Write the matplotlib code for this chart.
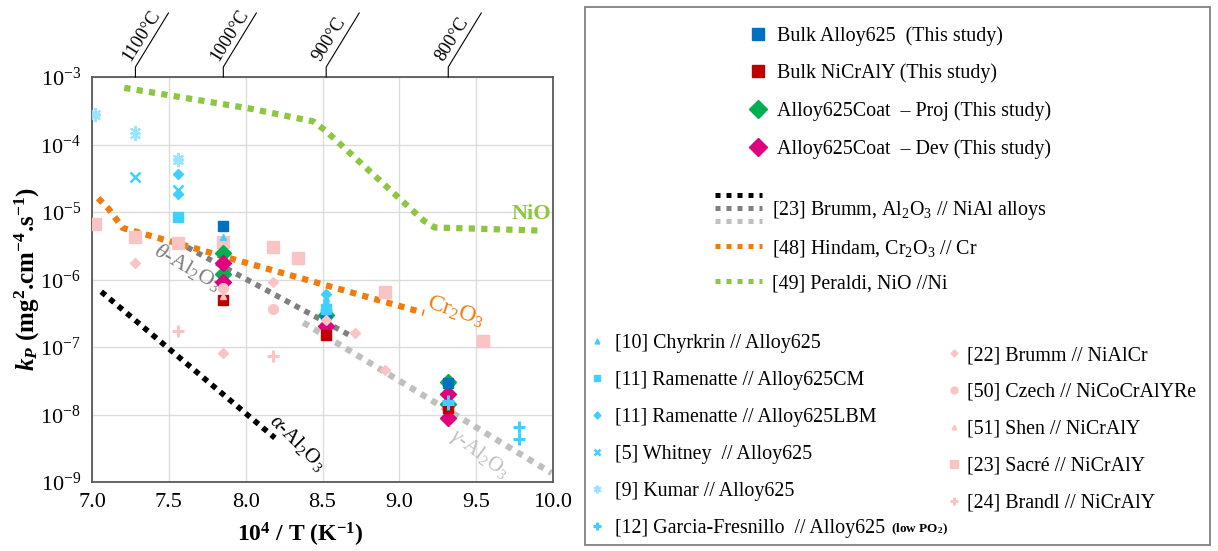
import matplotlib
matplotlib.use('Agg')
import matplotlib.pyplot as plt
import numpy as np
from matplotlib.lines import Line2D
from matplotlib.patches import Rectangle
from matplotlib.transforms import IdentityTransform
from matplotlib.legend_handler import HandlerBase

plt.rcParams['font.family'] = 'Liberation Serif'
plt.rcParams['mathtext.fontset'] = 'custom'
plt.rcParams['mathtext.rm'] = 'Liberation Serif'
plt.rcParams['mathtext.it'] = 'Liberation Serif:italic'
plt.rcParams['mathtext.bf'] = 'Liberation Serif:bold'
plt.rcParams['mathtext.bfit'] = 'Liberation Serif:italic:bold'

# ---- data (x = 1e4/T in K^-1, y = kp in mg^2.cm^-4.s^-1) ----
temps_c = [1100, 1000, 900, 800]

bulk625_x = [7.854, 8.52, 9.318]
bulk625_y = [6.1e-6, 3.1e-7, 2.95e-8]
bulknicraly_x = [7.854, 8.52, 9.318]
bulknicraly_y = [4.9e-7, 1.5e-7, 1.26e-8]
proj_x = [7.854, 7.854, 8.52, 9.318, 9.318]
proj_y = [2.5e-6, 1.2e-6, 3.0e-7, 3.0e-8, 1.45e-8]
dev_x = [7.854, 7.854, 8.52, 9.318, 9.318]
dev_y = [1.74e-6, 9.1e-7, 2.07e-7, 2.0e-8, 8.9e-9]

brumm_alpha_x = [7.06, 8.19]
brumm_alpha_y = [6.6e-7, 4.5e-9]
brumm_theta_x = [7.62, 8.70]
brumm_theta_y = [3.0e-6, 1.4e-7]
brumm_gamma_x = [8.375, 9.99]
brumm_gamma_y = [2.3e-7, 1.36e-9]
hindam_x = [7.04, 7.11, 7.20, 9.16]
hindam_y = [1.6e-5, 1.1e-5, 5.8e-6, 3.2e-7]
peraldi_x = [7.21, 8.03, 8.44, 8.52, 9.16, 9.23, 9.93]
peraldi_y = [6.9e-4, 3.4e-4, 2.2e-4, 1.6e-4, 7.4e-6, 5.9e-6, 5.3e-6]

chyrkrin_x = [7.854, 8.52, 8.52, 8.52, 8.52, 8.52]
chyrkrin_y = [4.3e-6, 3.4e-7, 3.8e-7, 4.3e-7, 4.8e-7, 5.3e-7]
ramcm_x = [7.557, 8.52]
ramcm_y = [8.4e-6, 3.6e-7]
ramlbm_x = [7.557, 7.557, 8.52]
ramlbm_y = [3.6e-5, 1.86e-5, 6.0e-7]
whitney_x = [7.28, 7.557]
whitney_y = [3.3e-5, 2.14e-5]
kumar_x = [7.02, 7.02, 7.28, 7.28, 7.557, 7.557]
kumar_y = [2.6e-4, 2.9e-4, 1.4e-4, 1.6e-4, 5.6e-5, 6.3e-5]
garcia_x = [9.318, 9.318, 9.78, 9.78]
garcia_y = [1.6e-8, 1.42e-8, 6.5e-9, 4.3e-9]

brummnialcr_x = [7.28, 7.854, 8.176, 8.52, 8.71, 8.906]
brummnialcr_y = [1.74e-6, 8.1e-8, 9.1e-7, 2.5e-7, 1.6e-7, 4.5e-8]
czech_x = [7.854, 8.176]
czech_y = [7.6e-7, 3.6e-7]
shen_x = [7.854]
shen_y = [5.6e-7]
sacre_x = [7.02, 7.28, 7.557, 7.854, 8.176, 8.34, 8.906, 9.542]
sacre_y = [6.6e-6, 4.2e-6, 3.5e-6, 3.6e-6, 3.0e-6, 2.1e-6, 6.6e-7, 1.22e-7]
brandl_x = [7.557, 8.176]
brandl_y = [1.7e-7, 7.3e-8]

blue = '#0070C0'
red = '#C00000'
green = '#00B050'
magenta = '#E0007E'
cyan = '#3FD0FF'
cyan_l = '#99E4FF'
pink = '#FBC4C4'
orange = '#F07C0A'
lime = '#8DC63F'

fig = plt.figure(figsize=(12.18, 5.51), dpi=100)
ax = fig.add_axes([92 / 1218, 1 - 482 / 551, 461 / 1218, 405 / 551])
ax.set_yscale('log')
ax.set_xlim(7.0, 10.0)
ax.set_ylim(1e-9, 1e-3)
ax.set_xticks(np.arange(7.0, 10.01, 0.5))
ax.set_xticklabels(['%.1f' % v for v in np.arange(7.0, 10.01, 0.5)])
ax.yaxis.set_minor_locator(matplotlib.ticker.NullLocator())
ax.tick_params(length=0, labelsize=16, pad=8)
ax.grid(True, color='#dcdcdc', lw=1)
ax.set_axisbelow(True)
for s in ax.spines.values():
    s.set_color('#595959')
    s.set_linewidth(1.3)

dot = (0, (1, 1))
l_alpha, = ax.plot(brumm_alpha_x, brumm_alpha_y, color='black', lw=4, ls=dot)
l_theta, = ax.plot(brumm_theta_x, brumm_theta_y, color='#7f7f7f', lw=4, ls=dot)
l_gamma, = ax.plot(brumm_gamma_x, brumm_gamma_y, color='#bfbfbf', lw=4.5, ls=dot)
l_hindam, = ax.plot(hindam_x, hindam_y, color=orange, lw=4.5, ls=dot)
l_peraldi, = ax.plot(peraldi_x, peraldi_y, color=lime, lw=4.5, ls=dot)

m_proj, = ax.plot(proj_x, proj_y, 'D', color=green, ms=8, zorder=4)
m_dev, = ax.plot(dev_x, dev_y, 'D', color=magenta, ms=8, zorder=4)
m_blue, = ax.plot(bulk625_x, bulk625_y, 's', color=blue, ms=7.5, zorder=4)
m_red, = ax.plot(bulknicraly_x, bulknicraly_y, 's', color=red, ms=7.5, zorder=4)

m_chy, = ax.plot(chyrkrin_x, chyrkrin_y, '^', color=cyan, ms=5, zorder=5)
m_rcm, = ax.plot(ramcm_x, ramcm_y, 's', color=cyan, ms=7, zorder=5)
m_rlbm, = ax.plot(ramlbm_x, ramlbm_y, 'D', color=cyan, ms=5, zorder=5)
m_whit, = ax.plot(whitney_x, whitney_y, 'x', color=cyan, ms=7, mew=1.8, zorder=5)
m_kum, = ax.plot(kumar_x, kumar_y, marker=(6, 2, 0), ls='none', color=cyan_l, ms=8, mew=1.5, zorder=5)
m_gar, = ax.plot(garcia_x, garcia_y, '+', color=cyan, ms=8, mew=2.2, zorder=5)

m_bnac, = ax.plot(brummnialcr_x, brummnialcr_y, 'D', color=pink, ms=5, zorder=5)
m_cze, = ax.plot(czech_x, czech_y, 'o', color=pink, ms=7, zorder=5)
m_shen, = ax.plot(shen_x, shen_y, '^', color=pink, ms=5, zorder=5)
m_sac, = ax.plot(sacre_x, sacre_y, 's', color=pink, ms=8, zorder=3)
m_bra, = ax.plot(brandl_x, brandl_y, '+', color=pink, ms=8, mew=2.2, zorder=5)

ax.text(9.86, 9.5e-6, 'NiO', color=lime, fontsize=16, fontweight='bold', ha='center', va='center')
ax.text(9.37, 3.4e-7, 'Cr$_2$O$_3$', color=orange, fontsize=17, rotation=-18, ha='center', va='center')
ax.text(7.62, 1.55e-6, r'$\theta$-Al$_2$O$_3$', color='#7f7f7f', fontsize=16, rotation=-30,
        ha='center', va='center')
ax.text(8.34, 3.8e-9, r'$\alpha$-Al$_2$O$_3$', color='black', fontsize=15, rotation=-45,
        ha='center', va='center')
ax.text(9.52, 2.6e-9, r'$\gamma$-Al$_2$O$_3$', color='#bfbfbf', fontsize=15, rotation=-37,
        ha='center', va='center')

ax.set_xlabel(r'10$^{\mathbf{4}}$ / T (K$^{\mathbf{-1}}$)', fontsize=17, fontweight='bold')
ax.xaxis.set_label_coords((300 - 92) / 461, (482 - 535) / 405)
ax.xaxis.label.set_va('center')
ax.set_ylabel(r'$\mathbfit{k_P}$ (mg$^{\mathbf{2}}$.cm$^{\mathbf{-4}}$.s$^{\mathbf{-1}}$)',
              fontsize=18, fontweight='bold')
ax.yaxis.set_label_coords((27 - 92) / 461, 0.5)
ax.yaxis.label.set_va('center')

# temperature markers on top
W, H = 1218, 551
for tc in temps_c:
    xv = 1e4 / (tc + 273.15)
    px, py = ax.transData.transform((xv, 1e-3))
    fig.add_artist(Line2D([px, px, px + 33], [py, py + 10, py + 64], color='black', lw=0.8,
                          transform=IdentityTransform()))
    fig.text((px - 2) / W, (py + 13) / H, '%d°C' % tc, rotation=58, rotation_mode='anchor', ha='left',
             va='bottom', fontsize=13.5)


class StackHandler(HandlerBase):
    def create_artists(self, legend, orig_handle, xdescent, ydescent, width, height, fontsize, trans):
        arts = []
        for i, h in enumerate(orig_handle):
            y = height / 2 + (1 - i) * 9.5
            ln = Line2D([-xdescent, width - xdescent], [y, y], color=h.get_color(), lw=3.6,
                        ls=(0, (1, 1.2)))
            ln.set_transform(trans)
            arts.append(ln)
        return arts


def fpos(x, y):
    return (x / W, 1 - y / H)


fs = 14.4
leg1 = fig.legend([m_blue, m_red, m_proj, m_dev],
                  ['Bulk Alloy625  (This study)', 'Bulk NiCrAlY (This study)',
                   'Alloy625Coat  – Proj (This study)', 'Alloy625Coat  – Dev (This study)'],
                  loc='upper left', bbox_to_anchor=fpos(748, 26), frameon=False, fontsize=fs,
                  handlelength=1.0, handletextpad=0.45, labelspacing=0.9, borderpad=0, borderaxespad=0,
                  numpoints=1, markerscale=1.2)
leg2 = fig.legend([(l_alpha, l_theta, l_gamma), l_hindam, l_peraldi],
                  ['[23] Brumm, Al$_2$O$_3$ // NiAl alloys', '[48] Hindam, Cr$_2$O$_3$ // Cr',
                   '[49] Peraldi, NiO //Ni'],
                  loc='upper left', bbox_to_anchor=fpos(715, 199), frameon=False, fontsize=fs,
                  handlelength=2.35, handletextpad=0.5, labelspacing=0.78, borderpad=0, borderaxespad=0,
                  handler_map={tuple: StackHandler()})
for ln in leg2.get_lines():
    ln.set_linewidth(3.6)
    ln.set_linestyle((0, (1, 1.2)))
leg3 = fig.legend([m_chy, m_rcm, m_rlbm, m_whit, m_kum, m_gar],
                  ['[10] Chyrkrin // Alloy625', '[11] Ramenatte // Alloy625CM',
                   '[11] Ramenatte // Alloy625LBM', '[5] Whitney  // Alloy625', '[9] Kumar // Alloy625',
                   '[12] Garcia-Fresnillo  // Alloy625'],
                  loc='upper left', bbox_to_anchor=fpos(587, 334), frameon=False, fontsize=fs,
                  handlelength=1.0, handletextpad=0.4, labelspacing=0.895, borderpad=0, borderaxespad=0,
                  markerscale=0.7, numpoints=1)
leg4 = fig.legend([m_bnac, m_cze, m_shen, m_sac, m_bra],
                  ['[22] Brumm // NiAlCr', '[50] Czech // NiCoCrAlYRe', '[51] Shen // NiCrAlY',
                   '[23] Sacré // NiCrAlY', '[24] Brandl // NiCrAlY'],
                  loc='upper left', bbox_to_anchor=fpos(944, 346), frameon=False, fontsize=fs,
                  handlelength=1.0, handletextpad=0.15, labelspacing=0.895, borderpad=0, borderaxespad=0,
                  markerscale=0.7, numpoints=1)
fig.text(891 / W, 1 - 529 / H, '(low PO$_{\\mathbf{2}}$)', fontsize=9.5, fontweight='bold', va='center')

fig.add_artist(Rectangle(fpos(585, 545), (1210 - 585) / W, (545 - 7) / H, transform=fig.transFigure,
                         fill=False, ec='#808080', lw=1.3))

fig.savefig('out.png', dpi=100)
